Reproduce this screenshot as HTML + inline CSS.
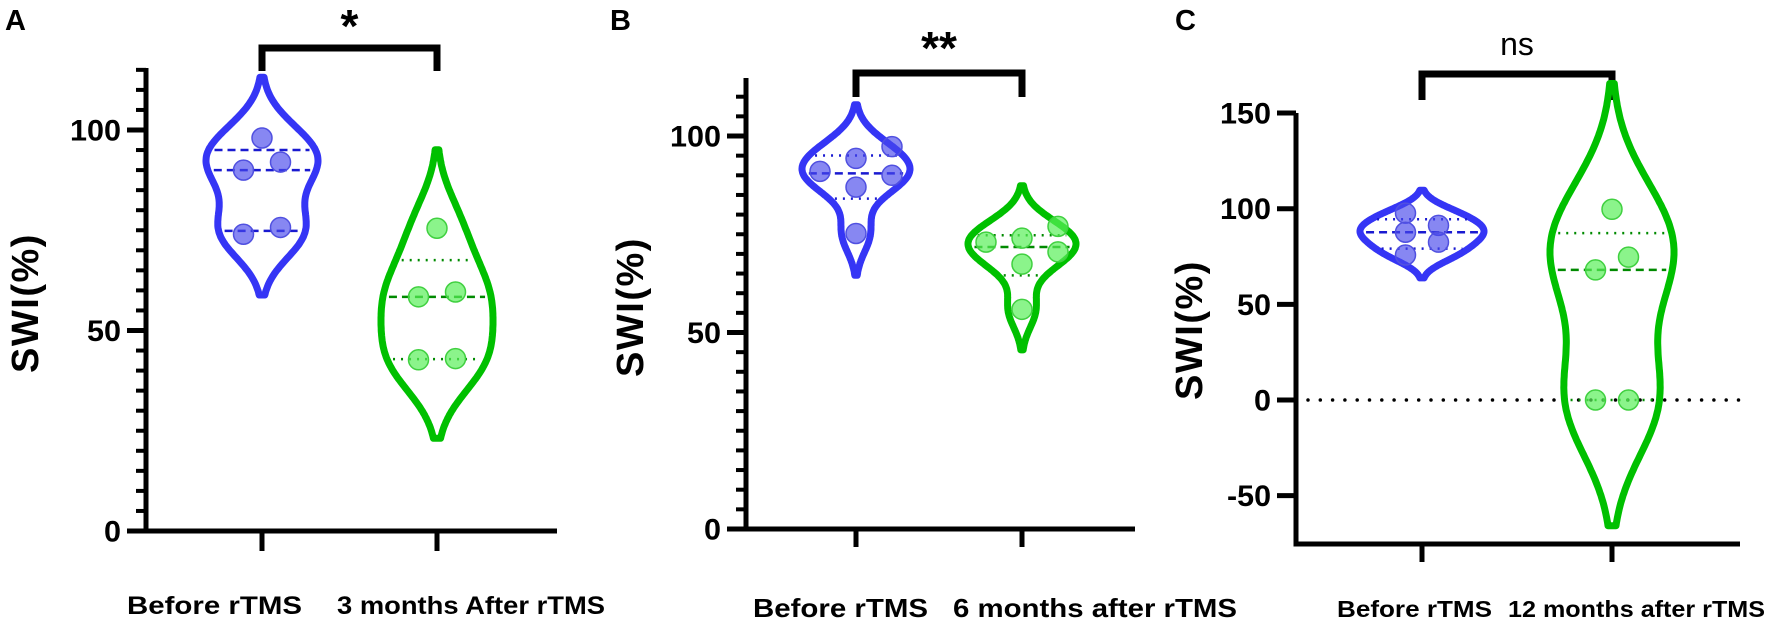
<!DOCTYPE html>
<html><head><meta charset="utf-8"><style>
html,body{margin:0;padding:0;background:#fff;}
svg{display:block;font-family:"Liberation Sans",Arial,sans-serif;}
</style></head><body>
<svg id="fig" width="1772" height="625" viewBox="0 0 1772 625" xmlns="http://www.w3.org/2000/svg"></svg>
<script>
// ---- data (SWI %) ----
const aCategories = ["Before rTMS", "3 months After rTMS"];
const aBefore = [98, 90, 92, 74, 75.7];
const aAfter = [75.5, 58.4, 59.6, 42.7, 43];
const aTicks = [0, 50, 100];
const bCategories = ["Before rTMS", "6 months after rTMS"];
const bBefore = [91, 94.3, 97.3, 90, 87, 75.2];
const bAfter = [73, 74, 77, 70.5, 67.4, 55.9];
const bTicks = [0, 50, 100];
const cCategories = ["Before rTMS", "12 months after rTMS"];
const cBefore = [97.7, 87.7, 75.8, 91.3, 82.5];
const cAfter = [99.7, 68, 74.7, 0, 0];
const cTicks = [-50, 0, 50, 100, 150];
const sigLabels = ["*", "**", "ns"];

// layout slots (jitter positions, not data)
const aSlot1 = [0, -1, 1, -1, 1], aSlot2 = [0, -1, 1, -1, 1];
const bSlot1 = [-1, 0, 1, 1, 0, 0], bSlot2 = [-1, 0, 1, 1, 0, 0];
const cSlot1 = [-1, -1, -1, 1, 1], cSlot2 = [0, -1, 1, -1, 1];

const NS = "http://www.w3.org/2000/svg";
const svg = document.getElementById("fig");
function mk(tag, attrs, parent) {
  const e = document.createElementNS(NS, tag);
  for (const k in attrs) e.setAttribute(k, attrs[k]);
  (parent || svg).appendChild(e);
  return e;
}
function quant(arr, p) {
  const s = arr.slice().sort((a, b) => a - b), n = s.length;
  let pos = p * (n + 1);
  if (pos < 1) pos = 1; if (pos > n) pos = n;
  const lo = Math.floor(pos), f = pos - lo;
  return lo >= n ? s[n - 1] : s[lo - 1] + f * (s[lo] - s[lo - 1]);
}
function sd(arr) {
  const m = arr.reduce((a, b) => a + b, 0) / arr.length;
  return Math.sqrt(arr.reduce((a, b) => a + (b - m) * (b - m), 0) / (arr.length - 1));
}

const BLUE = "#3535f5", GREEN = "#00c000";
const panels = [
  {id:"a", letter:"A", lx:5, cats:aCategories, g1:aBefore, g2:aAfter, s1:aSlot1, s2:aSlot2, ticks:aTicks,
   ax:146, y0:531, ppu:4.01, top:68, xEnd:557, c1:262, c2:437, minor:5, tickBot:551,
   brY:48, brBot:71, sigY:42, sig:sigLabels[0], sigSize:46, labY:614, labX:[127, 337], labW:[175, 268], catSize:25,
   halfW:56, jit:18.5, dashAll1:true, titleX:38, titleY:303},
  {id:"b", letter:"B", lx:610, cats:bCategories, g1:bBefore, g2:bAfter, s1:bSlot1, s2:bSlot2, ticks:bTicks,
   ax:746, y0:529, ppu:3.93, top:78, xEnd:1135, c1:856, c2:1022, minor:5, tickBot:547,
   brY:73, brBot:97, sigY:64, sig:sigLabels[1], sigSize:46, labY:617, labX:[753, 953], labW:[175, 284], catSize:26,
   halfW:54, jit:36, dashAll1:false, titleX:643, titleY:307},
  {id:"c", letter:"C", lx:1175, cats:cCategories, g1:cBefore, g2:cAfter, s1:cSlot1, s2:cSlot2, ticks:cTicks,
   ax:1296, y0:400, ppu:1.913, top:113, bottom:544, xEnd:1740, c1:1422, c2:1612, minor:0, tickBot:562,
   brY:74, brBot:100, sigY:55, sig:sigLabels[2], sigSize:32, labY:617, labX:[1337, 1508], labW:[155, 257], catSize:23,
   halfW:62, jit:16.5, dashAll1:false, titleX:1202, titleY:330, zeroLine:true}
];

panels.forEach(P => {
  const g = mk("g", {});
  
  
  const yS = v => P.y0 - v * P.ppu;
  const bottom = P.bottom || P.y0;
  const lt = mk("text", {x:P.lx, y:30, "font-size":29, "font-weight":"bold", fill:"#000"}, g);
  lt.textContent = P.letter;
  
  
  const ya = mk("line", {x1:P.ax, y1:P.top, x2:P.ax, y2:bottom + 2.5, stroke:"#000", "stroke-width":5}, g);
  
  
  const xa = mk("line", {x1:P.id === "c" ? P.ax - 2.5 : P.ax - 19, y1:bottom, x2:P.xEnd, y2:bottom, stroke:"#000", "stroke-width":5}, g);
  
  
  if (P.minor) {
    const maxV = (P.y0 - P.top) / P.ppu;
    for (let v = P.minor; v <= maxV + 0.01; v += P.minor) {
      if (P.ticks.indexOf(v) >= 0) continue;
      const t = mk("line", {x1:P.ax - 10, y1:yS(v), x2:P.ax, y2:yS(v), stroke:"#000", "stroke-width":4}, g);
      
      
    }
  }
  P.ticks.forEach(v => {
    const t = mk("line", {x1:P.ax - 19, y1:yS(v), x2:P.ax, y2:yS(v), stroke:"#000", "stroke-width":5}, g);
    
    
    const s = String(v);
    const w = s.replace("-", "").length * 17 + (s.indexOf("-") >= 0 ? 10 : 0);
    const l = mk("text", {x:P.ax - 25, y:yS(v) + 10.5, "font-size":30, "font-weight":"bold", "text-anchor":"end", fill:"#000",
      textLength:w, lengthAdjust:"spacingAndGlyphs"}, g);
    l.textContent = s;
    
    
  });
  const tt = mk("text", {x:0, y:0, "font-size":38, "font-weight":"bold", "text-anchor":"middle", fill:"#000",
    "letter-spacing":1.5,
    transform:`translate(${P.titleX},${P.titleY}) rotate(-90)`}, g);
  tt.textContent = "SWI(%)";
  
  
  [P.c1, P.c2].forEach((cx, i) => {
    const t = mk("line", {x1:cx, y1:bottom, x2:cx, y2:P.tickBot, stroke:"#000", "stroke-width":5}, g);
    
    
    const l = mk("text", {x:P.labX[i], y:P.labY, "font-size":P.catSize, "font-weight":"bold", fill:"#000",
      textLength:P.labW[i], lengthAdjust:"spacingAndGlyphs"}, g);
    l.textContent = P.cats[i];
    
    
  });
  const br = mk("path", {d:`M${P.c1},${P.brBot} V${P.brY} H${P.c2} V${P.brBot}`, fill:"none", stroke:"#000", "stroke-width":7}, g);
  
  
  const sg = mk("text", {x:(P.c1 + P.c2) / 2, y:P.sigY, "font-size":P.sigSize, "font-weight":P.sig === "ns" ? "normal" : "bold", "text-anchor":"middle", fill:"#000"}, g);
  sg.textContent = P.sig;
  
  
  if (P.zeroLine) {
    const z = mk("line", {x1:P.ax + 12, y1:yS(0), x2:P.xEnd, y2:yS(0), stroke:"#000", "stroke-width":3.5, "stroke-dasharray":"0 12.3", "stroke-linecap":"round"}, g);
    
    
  }
  [[P.g1, P.c1, BLUE, "#1a1ad0", "rgba(70,70,235,0.65)", "#5050e0", P.s1, "before"],
   [P.g2, P.c2, GREEN, "#008a00", "rgba(90,240,90,0.7)", "#40d040", P.s2, "after"]].forEach(([data, cx, col, lineCol, ptFill, ptStroke, slots, nm], gi) => {
    const h = 0.9 * sd(data) * Math.pow(data.length, -0.2);
    const lo = Math.min(...data) - 2.2 * h, hi = Math.max(...data) + 2.2 * h;
    const dens = v => data.reduce((a, d) => a + Math.exp(-0.5 * ((v - d) / h) ** 2), 0);
    const N = 160, vals = [];
    let mx = 0;
    for (let i = 0; i <= N; i++) { const v = lo + (hi - lo) * i / N; const d = dens(v); vals.push([v, d]); if (d > mx) mx = d; }
    const wAt = v => dens(v) / mx * P.halfW;
    let right = "", left = "";
    vals.forEach(([v, d], i) => {
      right += (i ? "L" : "M") + (cx + d / mx * P.halfW).toFixed(1) + "," + yS(v).toFixed(1);
    });
    for (let i = N; i >= 0; i--) { const [v, d] = vals[i]; left += "L" + (cx - d / mx * P.halfW).toFixed(1) + "," + yS(v).toFixed(1); }
    const vp = mk("path", {d:right + left + "Z", fill:"none", stroke:col, "stroke-width":7, "stroke-linejoin":"round"}, g);
    
    
    [[0.25, "q1"], [0.5, "median"], [0.75, "q3"]].forEach(([p, qn]) => {
      const q = quant(data, p);
      const w = Math.max(wAt(q) - 6, 4);
      const dashed = qn === "median" || (gi === 0 && P.dashAll1);
      const ql = mk("line", {x1:cx - w, y1:yS(q), x2:cx + w, y2:yS(q), stroke:lineCol, "stroke-width":2.5,
        "stroke-dasharray":dashed ? "8 5" : "2 6"}, g);
      
      
    });
    data.forEach((v, i) => {
      const c = mk("circle", {cx:cx + slots[i] * P.jit, cy:yS(v), r:10, fill:ptFill, stroke:ptStroke, "stroke-width":1.5}, g);
      
      
    });
  });
});
</script>
</body></html>
